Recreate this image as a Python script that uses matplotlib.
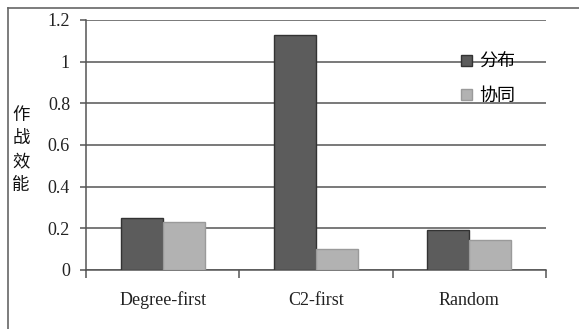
import matplotlib
matplotlib.use("Agg")
import matplotlib.pyplot as plt
from matplotlib.lines import Line2D
import numpy as np

# data
categories = ["Degree-first", "C2-first", "Random"]
fenbu = [0.25, 1.13, 0.19]     # 分布
xietong = [0.23, 0.10, 0.145]  # 协同
series_names = ["分布", "协同"]
yticks = [0, 0.2, 0.4, 0.6, 0.8, 1, 1.2]

cjk = ["Noto Sans CJK SC", "DejaVu Sans"]
serif = "Liberation Serif"
grey = "#555555"

fig = plt.figure(figsize=(5.79, 3.29), dpi=100)
ax = fig.add_axes([86 / 579, 1 - 270 / 329, 460 / 579, 250 / 329])

x = np.arange(len(categories))
w = 0.275
b1 = ax.bar(x - w / 2, fenbu, w, color="#5c5c5c", edgecolor="#333333", linewidth=1.0, zorder=3)
b2 = ax.bar(x + w / 2, xietong, w, color="#b2b2b2", edgecolor="#9a9a9a", linewidth=1.0, zorder=3)

ax.set_xlim(-0.5, 2.5)
ax.set_ylim(0, 1.2)
ax.set_yticks(yticks)
ax.set_yticklabels([f"{t:g}" for t in yticks], fontfamily=serif, fontsize=13, color="#222222")
ax.yaxis.grid(True, color=grey, linewidth=1.1, zorder=0)
ax.set_axisbelow(True)

# category boundaries as major ticks, names as minor tick labels
ax.set_xticks([-0.5, 0.5, 1.5, 2.5])
ax.set_xticklabels([])
ax.set_xticks(x, minor=True)
ax.set_xticklabels(categories, minor=True, fontfamily=serif, fontsize=13, color="#222222")
ax.tick_params(axis="x", which="major", length=6, width=1.1, color=grey, direction="out")
ax.tick_params(axis="x", which="minor", length=0, pad=15.5)
ax.tick_params(axis="y", length=4.5, width=1.1, color=grey, pad=7)

for s in ["top", "right"]:
    ax.spines[s].set_visible(False)
for s in ["left", "bottom"]:
    ax.spines[s].set_color(grey)
    ax.spines[s].set_linewidth(1.1)

leg = ax.legend([b1, b2], series_names, loc="upper left", bbox_to_anchor=(0.795, 0.905),
                frameon=False, prop={"family": cjk, "size": 13}, handlelength=0.6,
                handleheight=0.6, handletextpad=0.4, labelspacing=0.9, borderpad=0)

# vertical y label
fig.text(21 / 579, 1 - 150 / 329, "作\n战\n效\n能", fontfamily=cjk, fontsize=12.5,
         ha="center", va="center", linespacing=1.4, color="#111111")

# partial outer frame
fig.add_artist(Line2D([8 / 579, 1], [1 - 8 / 329, 1 - 8 / 329], color="#666666", linewidth=1.2))
fig.add_artist(Line2D([8 / 579, 8 / 579], [0, 1 - 8 / 329], color="#666666", linewidth=1.2))

fig.savefig("out.png", dpi=100, facecolor="white")
